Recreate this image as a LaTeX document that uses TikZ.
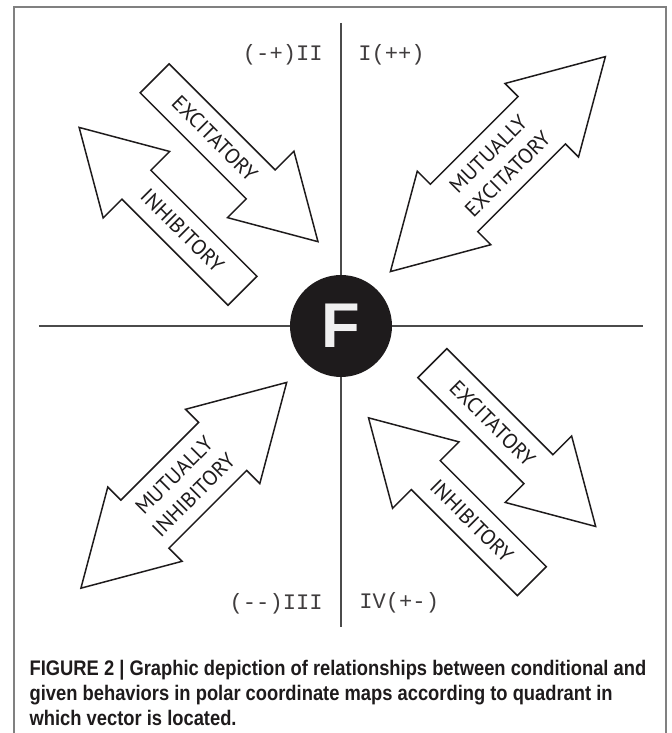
\documentclass[tikz,border=0pt]{standalone}
\usepackage{fontspec}
\newfontfamily\arrowfont{PT Sans}
\newfontfamily\quadfont{Liberation Mono}
\newfontfamily\capfont[FakeStretch=0.87]{Liberation Sans}
\newfontfamily\bigfont{Liberation Sans}
\usepackage{tikz}
\usetikzlibrary{positioning}
\definecolor{framegray}{RGB}{128,128,128}
\definecolor{inkblack}{RGB}{30,27,28}
\definecolor{axisgray}{RGB}{75,75,75}

\begin{document}
\begin{tikzpicture}[x=0.02cm,y=0.02cm,
    arrowline/.style={draw=inkblack,line width=0.85pt,fill=white,line join=miter},
    arrowtext/.style={inner sep=0pt,text=inkblack,font=\arrowfont\fontsize{12}{15.7}\selectfont,align=center,transform shape},
    quadlabel/.style={inner sep=0pt,text=inkblack!85,font=\quadfont\fontsize{12.6}{14}\selectfont},
    captext/.style={inner sep=0pt,anchor=base west,text=inkblack,font=\capfont\bfseries\fontsize{12}{14}\selectfont}]

        \useasboundingbox (-341,-407) rectangle (331,326);

        % Rahmen
        \draw[framegray,line width=1pt] (-327,-407) -- (-327,318.7) -- (325,318.7) -- (325,-407);

        % Achsen
        \coordinate (ytop) at (0,303);
        \coordinate (ybot) at (0,-301);
        \coordinate (xleft) at (-302,0);
        \coordinate (xright) at (302,0);
        \draw[axisgray,line width=0.8pt] (ytop) -- (ybot); % vertikal
        \draw[axisgray,line width=0.8pt] (xleft) -- (xright); % horizontal

        % Mittelpunkt F
        \node[circle,fill=inkblack,minimum size=2.04cm,inner sep=0pt,text=white!94!black,font=\bigfont\bfseries\fontsize{36}{36}\selectfont] (F) at (0,0) {F};

        % Quadrantenbeschriftung
        \node[quadlabel,anchor=east] (q2) at (-18,271) {(-+)II};
        \node[quadlabel,anchor=west] (q1) at (17,271) {I(++)};
        \node[quadlabel,anchor=east] (q3) at (-18,-277.5) {(--)III};
        \node[quadlabel,anchor=west] (q4) at (18,-277) {IV(+-)};

        % Quadrant II: excitatory
        \begin{scope}[shift={(-104.7,166)},rotate=-45]
            \draw[arrowline] (-115.5,-20.5) -- (34.5,-20.5) -- (34.5,-47) -- (115.5,0) -- (34.5,47) -- (34.5,20.5) -- (-115.5,20.5) -- cycle;
            \node[arrowtext] (exc2) at (-30.5,0) {EXCITATORY};
        \end{scope}

        % Quadrant II: inhibitory
        \begin{scope}[shift={(-180.2,116.9)},rotate=135]
            \draw[arrowline] (-115.5,-20.5) -- (34.5,-20.5) -- (34.5,-47) -- (115.5,0) -- (34.5,47) -- (34.5,20.5) -- (-115.5,20.5) -- cycle;
            \node[arrowtext,rotate=180] (inh2) at (-30.5,0) {INHIBITORY};
        \end{scope}

        % Quadrant I: mutually excitatory
        \begin{scope}[shift={(156.9,161.9)},rotate=45]
            \draw[arrowline] (-152,0) -- (-62,52) -- (-62,33.5) -- (62,33.5) -- (62,52) -- (152,0) -- (62,-52) -- (62,-33.5) -- (-62,-33.5) -- (-62,-52) -- cycle;
            \node[arrowtext] (mutexc) at (0,0) {MUTUALLY\\EXCITATORY};
        \end{scope}

        % Quadrant III: mutually inhibitory
        \begin{scope}[shift={(-157.2,-159.3)},rotate=45]
            \draw[arrowline] (-145.5,0) -- (-55,52.5) -- (-55,34) -- (55,34) -- (55,52.5) -- (145.5,0) -- (55,-52.5) -- (55,-34) -- (-55,-34) -- (-55,-52.5) -- cycle;
            \node[arrowtext] (mutinh) at (0,0) {MUTUALLY\\INHIBITORY};
        \end{scope}

        % Quadrant IV: excitatory
        \begin{scope}[shift={(173,-118.8)},rotate=-45]
            \draw[arrowline] (-115.5,-20.5) -- (34.5,-20.5) -- (34.5,-47) -- (115.5,0) -- (34.5,47) -- (34.5,20.5) -- (-115.5,20.5) -- cycle;
            \node[arrowtext] (exc4) at (-30.5,0) {EXCITATORY};
        \end{scope}

        % Quadrant IV: inhibitory
        \begin{scope}[shift={(109.2,-173.5)},rotate=135]
            \draw[arrowline] (-115.5,-20.5) -- (34.5,-20.5) -- (34.5,-47) -- (115.5,0) -- (34.5,47) -- (34.5,20.5) -- (-115.5,20.5) -- cycle;
            \node[arrowtext,rotate=180] (inh4) at (-30.5,0) {INHIBITORY};
        \end{scope}

        % Bildunterschrift
        \node[captext] (cap1) at (-311.7,-349) {FIGURE 2 | Graphic depiction of relationships between conditional and};
        \node[captext] (cap2) at (-311.7,-374) {given behaviors in polar coordinate maps according to quadrant in};
        \node[captext] (cap3) at (-311.7,-399) {which vector is located.};

\end{tikzpicture}
\end{document}
